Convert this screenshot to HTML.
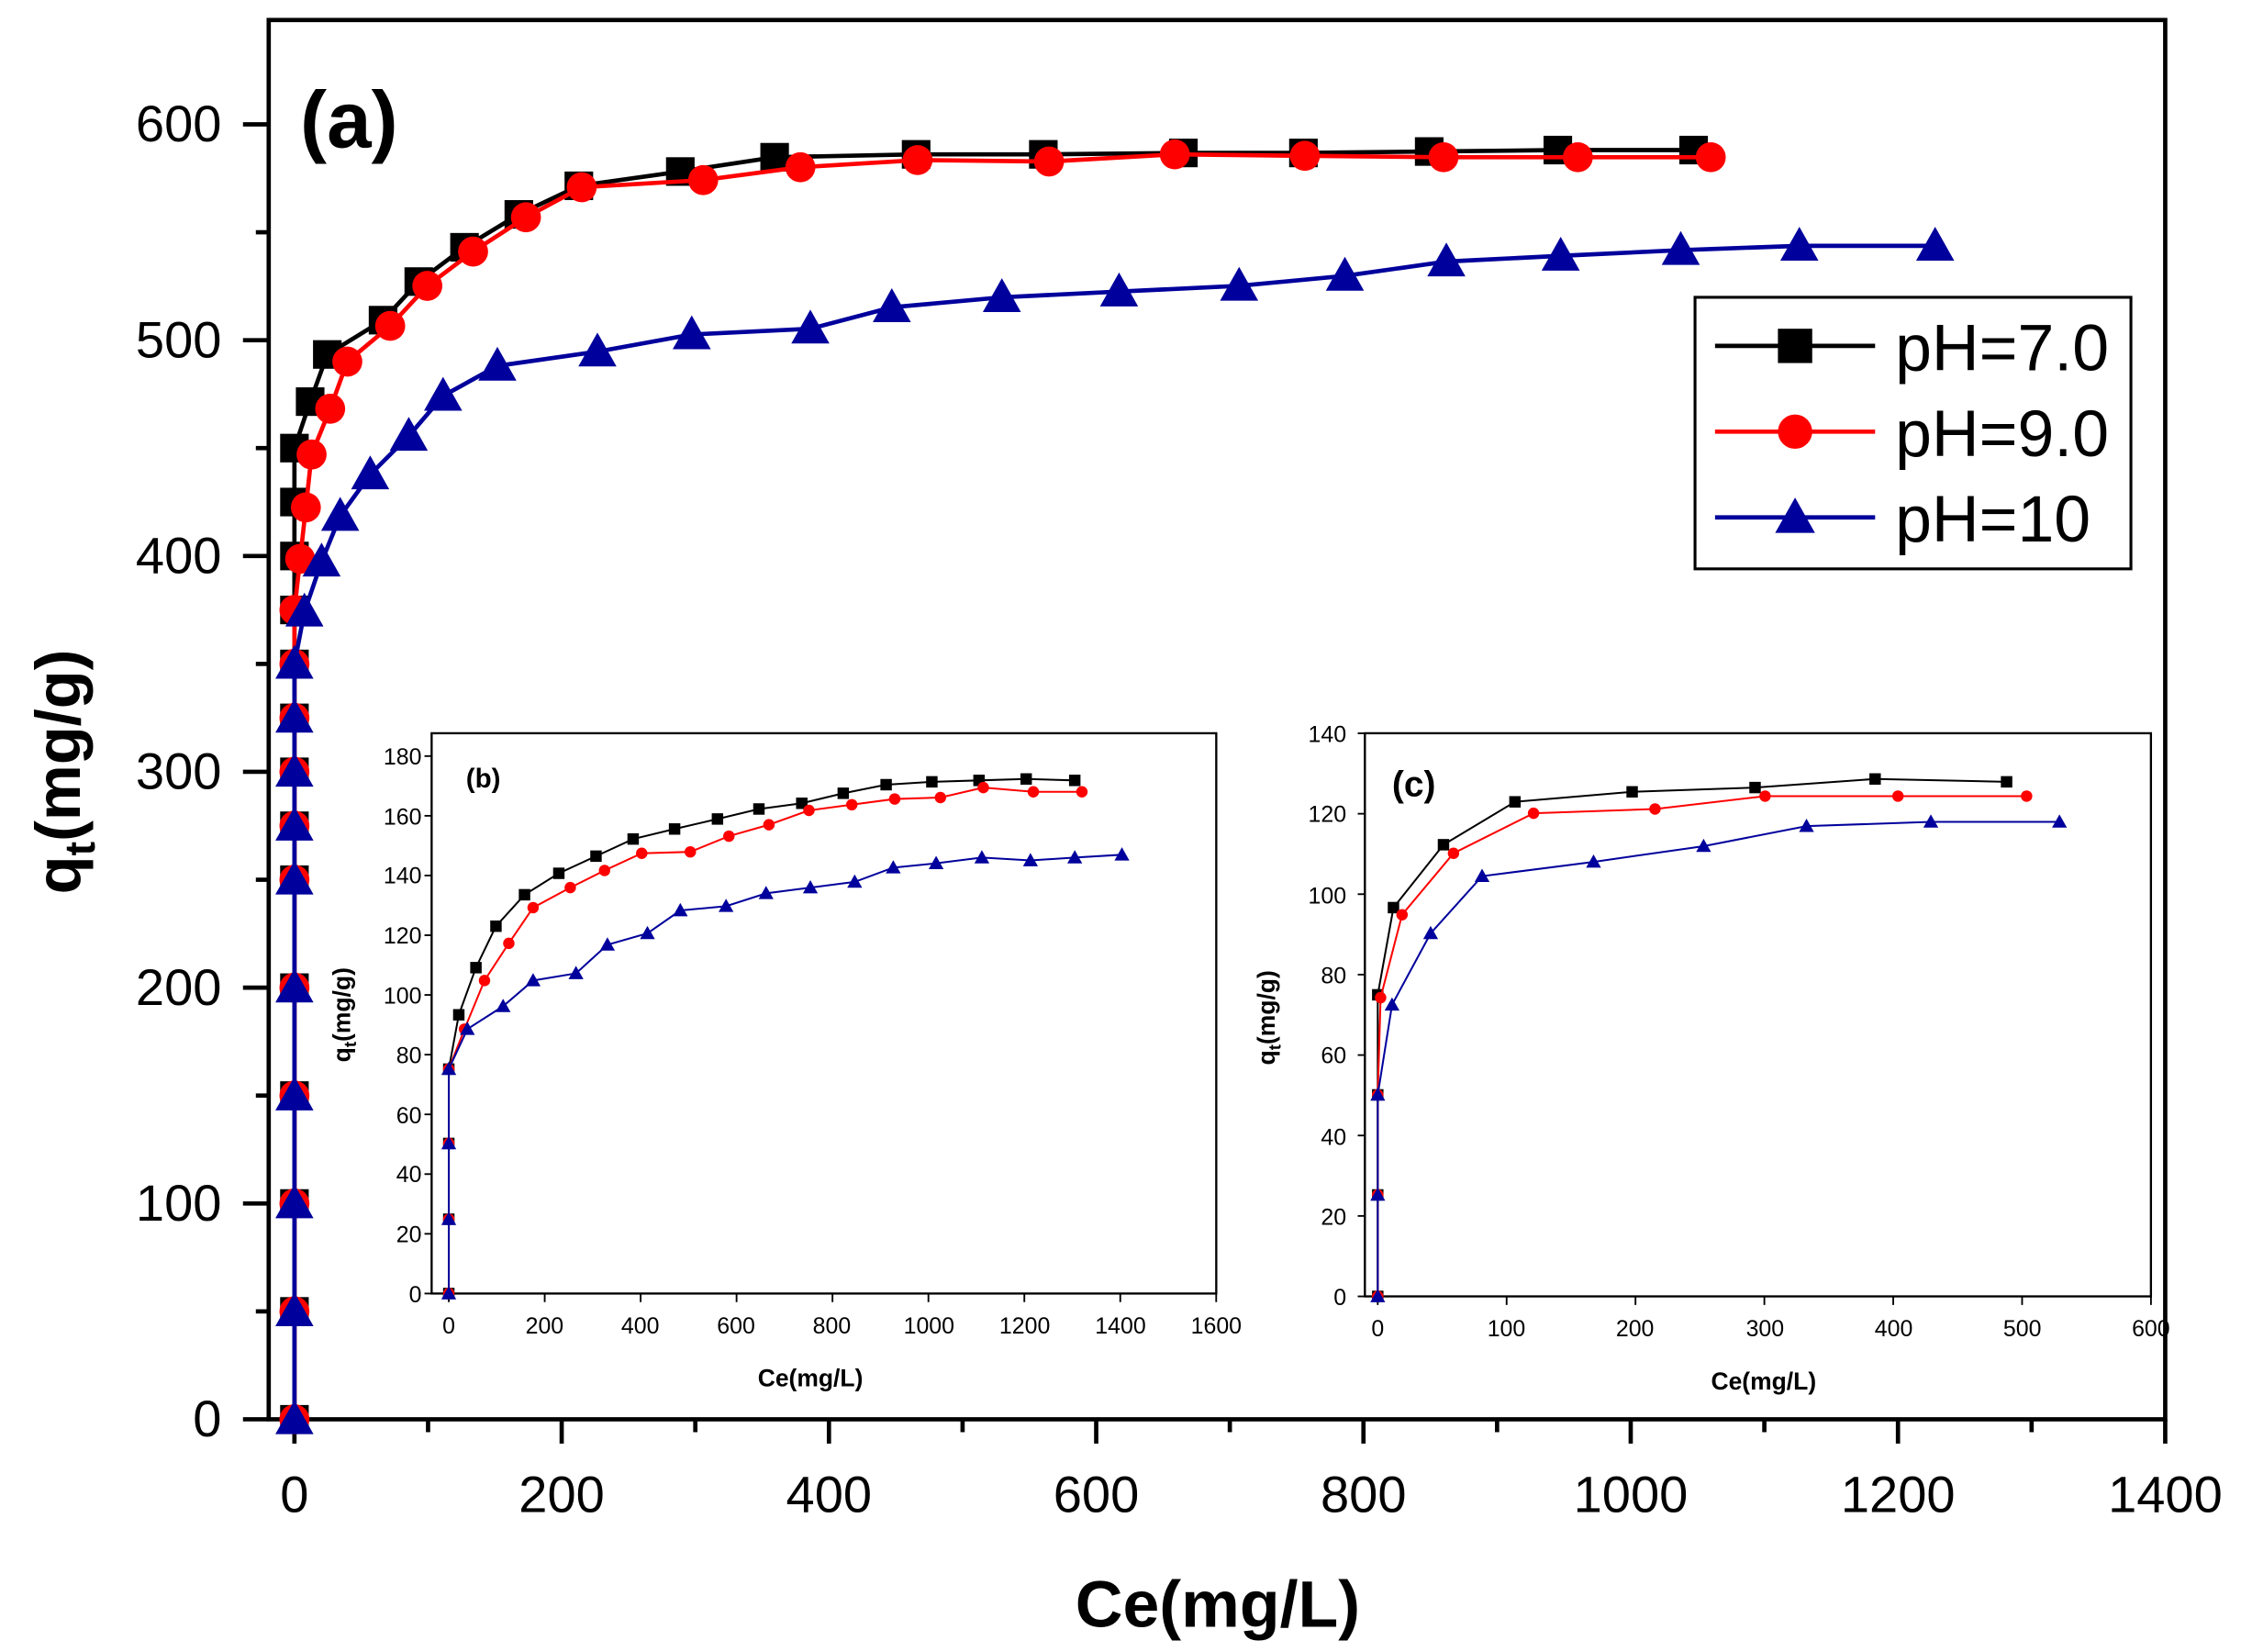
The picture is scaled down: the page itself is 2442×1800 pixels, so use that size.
<!DOCTYPE html>
<html><head><meta charset="utf-8"><style>html,body{margin:0;padding:0;background:#fff}svg{display:block}</style></head>
<body>
<svg id="s" xmlns="http://www.w3.org/2000/svg" width="2442" height="1800" viewBox="0 0 1568 1155.8" font-family="Liberation Sans, sans-serif">
<rect width="1568" height="1156" fill="#fff"/>
<g id="g"></g>
<g font-size="36" text-anchor="end" fill="#000">
<text x="155" y="1005">0</text><text x="155" y="854">100</text><text x="155" y="703">200</text><text x="155" y="552">300</text><text x="155" y="401">400</text><text x="155" y="250">500</text><text x="155" y="99">600</text>
</g>
<g font-size="36" text-anchor="middle">
<text x="206" y="1058">0</text><text x="393" y="1058">200</text><text x="580" y="1058">400</text><text x="767" y="1058">600</text><text x="954" y="1058">800</text><text x="1141" y="1058">1000</text><text x="1328" y="1058">1200</text><text x="1515" y="1058">1400</text>
</g>
<text x="852" y="1138" font-size="46" font-weight="bold" text-anchor="middle">Ce(mg/L)</text>
<text transform="translate(56,540) rotate(-90)" font-size="44" font-weight="bold" text-anchor="middle">q<tspan font-size="30" dy="10">t</tspan><tspan dy="-10">(mg/g)</tspan></text>
<text x="210" y="103" font-size="56" font-weight="bold">(a)</text>
<rect x="1186" y="208" width="305" height="190" fill="#fff" stroke="#000" stroke-width="2"/>
<g id="leg"></g>
<g font-size="46"><text x="1326" y="259">pH=7.0</text><text x="1326" y="319">pH=9.0</text><text x="1326" y="379">pH=10</text></g>
<g font-size="16" text-anchor="end">
<text x="295" y="911">0</text><text x="295" y="869">20</text><text x="295" y="827">40</text><text x="295" y="786">60</text><text x="295" y="744">80</text><text x="295" y="702">100</text><text x="295" y="660">120</text><text x="295" y="618">140</text><text x="295" y="577">160</text><text x="295" y="535">180</text>
</g>
<g font-size="16" text-anchor="middle">
<text x="314" y="933">0</text><text x="381" y="933">200</text><text x="448" y="933">400</text><text x="515" y="933">600</text><text x="582" y="933">800</text><text x="650" y="933">1000</text><text x="717" y="933">1200</text><text x="784" y="933">1400</text><text x="851" y="933">1600</text>
</g>
<text x="567" y="970" font-size="17" font-weight="bold" text-anchor="middle">Ce(mg/L)</text>
<text transform="translate(245,710) rotate(-90)" font-size="17" font-weight="bold" text-anchor="middle">q<tspan font-size="12" dy="4">t</tspan><tspan dy="-4">(mg/g)</tspan></text>
<text x="326" y="551" font-size="19" font-weight="bold">(b)</text>
<g font-size="16" text-anchor="end">
<text x="942" y="913">0</text><text x="942" y="857">20</text><text x="942" y="801">40</text><text x="942" y="744">60</text><text x="942" y="688">80</text><text x="942" y="632">100</text><text x="942" y="575">120</text><text x="942" y="519">140</text>
</g>
<g font-size="16" text-anchor="middle">
<text x="964" y="935">0</text><text x="1054" y="935">100</text><text x="1144" y="935">200</text><text x="1235" y="935">300</text><text x="1325" y="935">400</text><text x="1415" y="935">500</text><text x="1505" y="935">600</text>
</g>
<text x="1234" y="972" font-size="17" font-weight="bold" text-anchor="middle">Ce(mg/L)</text>
<text transform="translate(892,712) rotate(-90)" font-size="17" font-weight="bold" text-anchor="middle">q<tspan font-size="12" dy="4">t</tspan><tspan dy="-4">(mg/g)</tspan></text>
<text x="974" y="557" font-size="25" font-weight="bold">(c)</text>
</svg>
<script>
var NS='http://www.w3.org/2000/svg',g=document.getElementById('g');
function el(t,a){var e=document.createElementNS(NS,t);for(var k in a)e.setAttribute(k,a[k]);g.appendChild(e);return e;}
function line(x1,y1,x2,y2,c,w){el('line',{x1:x1,y1:y1,x2:x2,y2:y2,stroke:c||'#000','stroke-width':w||2});}
el('rect',{x:188,y:14,width:1327,height:979,fill:'none',stroke:'#000','stroke-width':3});
for(var v=0;v<=650;v+=50){var y=993-v*1.51;if(y<14)break;line(188,y,v%100?179:170,y,'#000',3);}
for(var v=0;v<=1400;v+=100){var x=206+v*0.935;line(x,993,x,v%200?1002:1010,'#000',3);}
function frame(x0,y0,x1,y1){el('rect',{x:x0,y:y0,width:x1-x0,height:y1-y0,fill:'#fff',stroke:'#000','stroke-width':1.5});}
function mk(type,x,y,s,c){
 if(type=='s')el('rect',{x:x-s/2,y:y-s/2,width:s,height:s,fill:c});
 else if(type=='c')el('circle',{cx:x,cy:y,r:s/2,fill:c});
 else el('polygon',{points:(x)+','+(y-s*0.58)+' '+(x+s*0.58)+','+(y+s*0.45)+' '+(x-s*0.58)+','+(y+s*0.45),fill:c});
}
function series(pts,c,type,s,w,dash){
 el('polyline',{points:pts.map(p=>p.join(',')).join(' '),fill:'none',stroke:c,'stroke-width':w,'stroke-dasharray':dash||'none'});
 pts.forEach(p=>mk(type,p[0],p[1],s,c));
}
var stk=[0,50,100,150,200,250,275,300,325,350];
function mstack(extra){return stk.concat(extra).map(v=>[206,993-v*1.51]);}
var B=mstack([375,400,425,450]).concat([[217,281],[229,248],[268,224],[293,197],[325,173],[363,150],[405,130],[476,120],[542,110],[641,108],[730,108],[828,107],[912,107],[1000,106],[1090,105],[1185,105]]);
var R=mstack([375]).concat([[210,391],[214,355],[218,318],[231,286],[243,253],[273,228],[299,200],[331,176],[368,152],[407,131],[492,126],[560,117],[642,112],[734,113],[822,108],[913,109],[1010,110],[1104,110],[1197,110]]);
var L=mstack([]).concat([[213,428],[225,393],[238,361],[259,332],[286,305],[310,277],[348,256],[418,246],[484,234],[567,230],[624,215],[701,208],[783,204],[867,200],[941,193],[1012,183],[1092,179],[1176,175],[1259,172],[1354,172]]);
series(B,'#000','s',20,3);
series(R,'#f00','c',21,3);
series(L,'#00009c','t',23,3);
frame(302,513,851,905);
for(var v=0;v<=180;v+=20){var y=905-v*2.089;line(302,y,297,y,'#000',1.2);}
for(var v=0;v<=1600;v+=200){var x=314+v*0.3356;line(x,905,x,911,'#000',1.2);}
function bs(a){return [[314,905],[314,853],[314,800],[314,748]].concat(a);}
series(bs([[321,710],[333,677],[347,648],[367,626],[391,611],[417,599],[443,587],[472,580],[502,573],[531,566],[561,562],[590,555],[620,549],[652,547],[685,546],[718,545],[752,546]]),'#000','s',8,1.3);
series(bs([[325,720],[339,686],[356,660],[373,635],[399,621],[423,609],[449,597],[483,596],[510,585],[538,577],[566,567],[596,563],[626,559],[658,558],[688,551],[723,554],[757,554]]),'#f00','c',8,1.3);
series(bs([[327,720],[352,704],[373,686],[403,681],[425,661],[453,653],[476,637],[508,634],[536,625],[567,621],[598,617],[625,607],[655,604],[687,600],[721,602],[752,600],[785,598]]),'#00009c','t',9,1.3);
frame(955,513,1505,907);
for(var v=0;v<=140;v+=20){var y=907-v*2.814;line(955,y,950,y,'#000',1.2);}
for(var v=0;v<=600;v+=100){var x=964+v*0.9017;line(x,907,x,913,'#000',1.2);}
function cs(a){return [[964,907],[964,836],[964,766]].concat(a);}
series(cs([[964,696],[975,635],[1010,591],[1060,561],[1142,554],[1228,551],[1312,545],[1404,547]]),'#000','s',8,1.3);
series(cs([[966,698],[981,640],[1017,597],[1073,569],[1158,566],[1235,557],[1328,557],[1418,557]]),'#f00','c',8,1.3);
series(cs([[974,703],[1001,653],[1037,613],[1115,603],[1192,592],[1264,578],[1351,575],[1441,575]]),'#00009c','t',9,1.3);
g=document.getElementById('leg');
[['#000','s',242],['#f00','c',302],['#00009c','t',362]].forEach(function(q){line(1200,q[2],1312,q[2],q[0],3);mk(q[1],1256,q[2],24,q[0]);});
</script>
</body></html>
